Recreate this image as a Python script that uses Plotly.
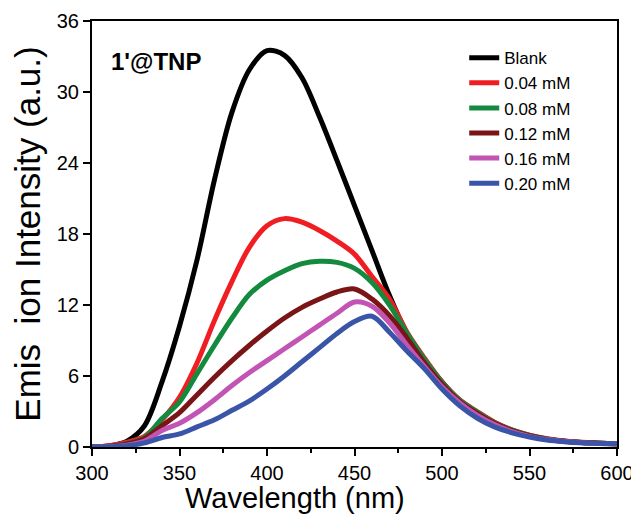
import plotly.graph_objects as go

# wavelength grid (nm)
wavelength = [300, 310, 320, 330, 340, 350, 360, 370, 380, 390, 400, 410, 420, 430, 440,
              450, 460, 470, 480, 490, 500, 510, 520, 530, 540, 550, 560, 570, 580, 590, 600]

# emission intensity (a.u.)
blank = [0.0, 0.1, 0.5, 1.8, 5.5, 10.2, 15.8, 22.6, 28.3, 31.9, 33.5, 33.1, 31.2, 27.9, 24.2,
         20.4, 16.6, 12.8, 9.6, 7.4, 5.5, 3.95, 2.95, 2.05, 1.4, 0.95, 0.65, 0.48, 0.38, 0.32, 0.28]
c004 = [0.0, 0.1, 0.4, 0.9, 2.3, 4.2, 7.1, 10.7, 14.0, 16.9, 18.7, 19.3, 19.0, 18.3, 17.4,
        16.3, 14.4, 12.5, 9.7, 7.5, 5.5, 4.0, 3.0, 2.1, 1.45, 1.0, 0.7, 0.5, 0.4, 0.32, 0.28]
c008 = [0.0, 0.05, 0.3, 0.8, 2.4, 3.8, 6.2, 8.6, 10.9, 12.9, 14.1, 14.9, 15.5, 15.7, 15.6,
        15.1, 13.9, 12.0, 9.6, 7.4, 5.45, 3.95, 2.95, 2.05, 1.42, 0.98, 0.68, 0.49, 0.38, 0.31, 0.27]
c012 = [0.0, 0.05, 0.25, 0.7, 1.8, 2.9, 4.4, 5.9, 7.3, 8.6, 9.8, 10.9, 11.8, 12.5, 13.1,
        13.35, 12.5, 11.1, 9.2, 7.1, 5.3, 3.85, 2.85, 2.0, 1.38, 0.95, 0.66, 0.48, 0.37, 0.31, 0.27]
c016 = [0.0, 0.03, 0.15, 0.5, 1.4, 2.0, 2.9, 4.0, 5.2, 6.3, 7.3, 8.3, 9.3, 10.3, 11.3,
        12.25, 11.9, 10.5, 8.6, 6.8, 5.1, 3.75, 2.7, 1.9, 1.3, 0.9, 0.63, 0.46, 0.36, 0.3, 0.27]
c020 = [0.0, 0.02, 0.1, 0.35, 0.8, 1.1, 1.7, 2.3, 3.1, 3.9, 4.9, 6.0, 7.2, 8.4, 9.6,
        10.6, 11.05, 9.7, 8.1, 6.6, 4.9, 3.5, 2.45, 1.7, 1.2, 0.85, 0.6, 0.45, 0.35, 0.3, 0.27]

series = [
    ('Blank', blank, '#000000'),
    ('0.04 mM', c004, '#f01e23'),
    ('0.08 mM', c008, '#138a3e'),
    ('0.12 mM', c012, '#7a1416'),
    ('0.16 mM', c016, '#c255b4'),
    ('0.20 mM', c020, '#3a55a8'),
]

fig = go.Figure()

for name, vals, color in series:
    fig.add_trace(go.Scatter(
        x=wavelength,
        y=vals,
        mode='lines',
        name=name,
        line=dict(color=color, width=5, shape='spline', smoothing=0.9)
    ))

font = 'Liberation Sans, Arial, sans-serif'

# page body has an 8px margin, so the figure is 8px smaller each way
fig.update_layout(
    width=631,
    height=507,
    margin=dict(l=84, r=22, t=13, b=68),
    paper_bgcolor='white',
    plot_bgcolor='white',
    font=dict(family=font, color='black'),
    showlegend=True,
    legend=dict(
        x=0.709, y=0.955, xanchor='left', yanchor='top',
        font=dict(size=17, family=font),
        bgcolor='rgba(0,0,0,0)',
        tracegroupgap=0
    ),
    xaxis=dict(
        range=[300, 600], dtick=50, tick0=300, automargin=False,
        showline=True, linecolor='black', linewidth=2, mirror=True,
        ticks='outside', ticklen=7, tickwidth=2, tickcolor='black',
        minor=dict(dtick=25, ticks='outside', ticklen=4, tickwidth=2, tickcolor='black'),
        showgrid=False, zeroline=False,
        tickfont=dict(size=20)
    ),
    yaxis=dict(
        range=[0, 36], dtick=6, tick0=0, automargin=False,
        showline=True, linecolor='black', linewidth=2, mirror=True,
        ticks='outside', ticklen=7, tickwidth=2, tickcolor='black',
        showgrid=False, zeroline=False,
        tickfont=dict(size=20),
        title=dict(text='Emis\u00a0 ion Intensity (a.u.)', font=dict(size=35), standoff=6)
    ),
    annotations=[
        dict(text='<b>1\'@TNP</b>', x=0.033, y=0.905, xref='paper', yref='paper',
             xanchor='left', yanchor='middle', showarrow=False, font=dict(size=24)),
        dict(text='Wavelength (nm)', x=0.387, y=-0.12, xref='paper', yref='paper',
             xanchor='center', yanchor='middle', showarrow=False, font=dict(size=29)),
    ]
)

fig.write_html("out.html")
